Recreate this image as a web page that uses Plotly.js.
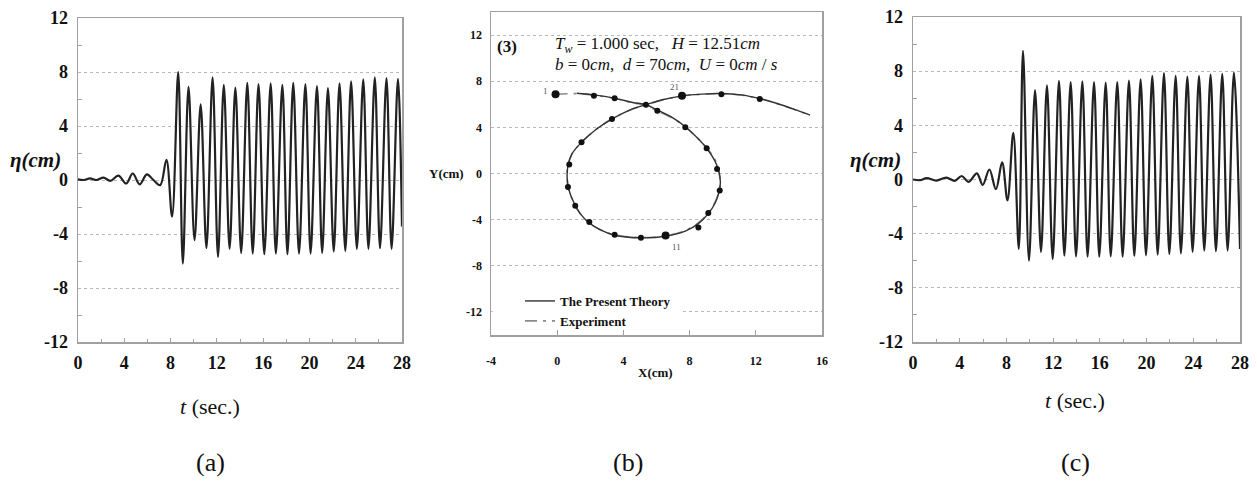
<!DOCTYPE html>
<html>
<head>
<meta charset="utf-8">
<script src="https://cdn.plot.ly/plotly-3.0.1.min.js"></script>
<style>
  html, body { margin: 0; padding: 0; background: #ffffff; }
  #chart { width: 1257px; height: 482px; }
</style>
</head>
<body>
<div id="chart"></div>
<script>
// ---------- (a) surface elevation record: turning points of the trace ----------
const leadTimeA   = [0, 0.5, 1.04, 1.6, 2.2, 2.8, 3.49, 4.17, 4.73, 5.33, 5.95, 6.5, 7.1, 7.64, 8.13];
const leadEtaA    = [0.05, 0.0, 0.12, 0.0, 0.17, -0.06, 0.32, -0.26, 0.48, -0.32, 0.42, 0.02, -0.38, 1.5, -2.7];
const crestTimeA  = [8.66, 9.55, 10.6, 11.63, 12.6, 13.6, 14.63, 15.6, 16.65, 17.66, 18.6, 19.65, 20.65, 21.6, 22.6, 23.6, 24.65, 25.65, 26.66, 27.65];
const crestEtaA   = [8.0, 6.9, 5.6, 7.6, 7.05, 6.85, 7.2, 7.1, 7.15, 7.05, 7.2, 7.1, 6.95, 6.8, 7.15, 7.3, 7.45, 7.6, 7.55, 7.5];
const troughTimeA = [9.06, 10.07, 11.1, 12.1, 13.1, 14.1, 15.1, 16.1, 17.1, 18.1, 19.1, 20.1, 21.1, 22.1, 23.1, 24.1, 25.1, 26.1, 27.1];
const troughEtaA  = [-6.2, -4.45, -5.05, -5.7, -5.1, -5.4, -5.45, -5.5, -5.45, -5.5, -5.45, -5.45, -5.4, -5.3, -5.25, -5.1, -5.1, -5.05, -5.1];
const tailTimeA   = [28];
const tailEtaA    = [-3.45];

// ---------- (c) surface elevation record: turning points of the trace ----------
const leadTimeC   = [0, 0.6, 1.17, 2.0, 2.85, 3.58, 4.17, 4.76, 5.47, 5.97, 6.54, 7.1, 7.63, 8.09, 8.59, 9.06];
const leadEtaC    = [0, -0.05, 0.1, -0.08, 0.14, -0.1, 0.26, -0.18, 0.45, -0.4, 0.74, -0.72, 1.27, -1.54, 3.45, -5.12];
const crestTimeC  = [9.42, 10.45, 11.47, 12.5, 13.5, 14.5, 15.5, 16.5, 17.49, 18.49, 19.49, 20.49, 21.49, 22.49, 23.49, 24.49, 25.48, 26.48, 27.48];
const crestEtaC   = [9.5, 6.6, 6.95, 7.28, 7.2, 7.25, 7.2, 7.15, 7.2, 7.3, 7.4, 7.65, 7.85, 7.65, 7.6, 7.65, 7.75, 7.8, 7.9];
const troughTimeC = [9.93, 10.96, 11.96, 12.96, 13.96, 14.95, 15.95, 16.93, 17.95, 18.95, 19.95, 20.95, 21.95, 22.94, 23.94, 24.94, 25.94, 26.94];
const troughEtaC  = [-6.0, -5.35, -5.88, -5.63, -5.68, -5.7, -5.7, -5.68, -5.7, -5.65, -5.6, -5.55, -5.5, -5.45, -5.35, -5.25, -5.3, -5.25];
const tailTimeC   = [28];
const tailEtaC    = [-5.14];

// ---------- (b) particle orbit ----------
const theoryX = [1.19, 2.22, 3.47, 4.56, 5.36, 6.05, 6.94, 7.74, 8.43, 9.03, 9.52, 9.78, 9.86, 9.78, 9.52, 9.13, 8.53, 7.74, 6.55, 5.06, 3.47, 2.58, 1.94, 1.39, 0.99, 0.69, 0.6, 0.65, 0.89, 1.47, 2.38, 3.31, 4.37, 5.36, 6.35, 7.54, 8.73, 9.92, 11.11, 12.24, 13.29, 14.29, 15.28];
const theoryY = [6.96, 6.82, 6.53, 6.16, 5.96, 5.5, 4.86, 4.06, 3.14, 2.19, 1.12, 0.12, -0.75, -1.61, -2.62, -3.48, -4.35, -5.0, -5.44, -5.58, -5.35, -4.86, -4.29, -3.48, -2.47, -1.32, -0.32, 0.69, 1.7, 2.7, 3.86, 4.72, 5.5, 5.96, 6.39, 6.73, 6.88, 6.94, 6.82, 6.5, 6.07, 5.58, 5.06];
const experimentX = [-0.1, 1.2, 2.22, 3.47, 4.6, 5.36, 6.05, 6.98, 7.78, 8.5, 9.1, 9.5, 9.76, 9.84, 9.76, 9.5, 9.1, 8.5, 7.7, 6.55, 5.06, 3.47, 2.55, 1.92, 1.37, 0.97, 0.68, 0.6, 0.66, 0.9, 1.47, 2.4, 3.31, 4.38, 5.36, 6.35, 7.54, 8.73, 9.92, 11.1, 12.24, 13.3, 14.3, 15.2];
const experimentY = [6.88, 6.92, 6.78, 6.5, 6.12, 5.9, 5.42, 4.78, 3.98, 3.05, 2.1, 1.3, 0.2, -0.7, -1.6, -2.6, -3.45, -4.3, -4.96, -5.4, -5.55, -5.32, -4.84, -4.26, -3.45, -2.45, -1.3, -0.3, 0.7, 1.72, 2.72, 3.88, 4.74, 5.48, 5.94, 6.37, 6.72, 6.86, 6.92, 6.8, 6.48, 6.05, 5.56, 5.1];
const stampX = [2.22, 3.47, 5.36, 6.05, 7.74, 9.03, 9.66, 9.82, 9.13, 8.53, 5.06, 3.47, 1.94, 1.09, 0.65, 0.73, 1.47, 3.31, 9.92, 12.24];
const stampY = [6.73, 6.53, 5.96, 5.44, 4.0, 2.19, 0.4, -1.47, -3.42, -4.69, -5.58, -5.3, -4.2, -2.79, -1.18, 0.78, 2.7, 4.72, 6.88, 6.45];
const markedX = [-0.1, 6.55, 7.54];
const markedY = [6.88, -5.38, 6.73];
const markedText = ['1', '11', '21'];

// ---------- tick labels ----------
const timeTicks = [0, 4, 8, 12, 16, 20, 24, 28];
const timeTickText = ['0', '4', '8', '12', '16', '20', '24', '28'];
const etaTicks = [-12, -8, -4, 0, 4, 8, 12];
const etaTickText = ['-12', '-8', '-4', '0', '4', '8', '12'];
const orbitXTicks = [-4, 0, 4, 8, 12, 16];
const orbitXTickText = ['-4', '0', '4', '8', '12', '16'];
const orbitYTicks = [-12, -8, -4, 0, 4, 8, 12];
const orbitYTickText = ['-12', '-8', '-4', '0', '4', '8', '12'];

// put the turning points of one record into time order
function mergeRecord(groups) {
  const pts = [];
  groups.forEach(([ts, es]) => ts.forEach((t, i) => pts.push([t, es[i]])));
  pts.sort((p, q) => p[0] - q[0]);
  return { t: pts.map(p => p[0]), eta: pts.map(p => p[1]) };
}
const recA = mergeRecord([[leadTimeA, leadEtaA], [crestTimeA, crestEtaA], [troughTimeA, troughEtaA], [tailTimeA, tailEtaA]]);
const recC = mergeRecord([[leadTimeC, leadEtaC], [crestTimeC, crestEtaC], [troughTimeC, troughEtaC], [tailTimeC, tailEtaC]]);

const W = 1257, H = 482;
const fx = px => px / W;
const fy = py => 1 - py / H;
const SERIF = 'Liberation Serif, Times New Roman, Times, serif';
const FRAME = '#a0a0a0';
const GRID = '#b8b8b8';

const waveLine = { color: '#222222', width: 2.2, shape: 'spline', smoothing: 1 };

const traces = [
  { type: 'scatter', mode: 'lines', x: recA.t, y: recA.eta, xaxis: 'x', yaxis: 'y',
    line: waveLine, showlegend: false, hoverinfo: 'skip' },
  { type: 'scatter', mode: 'lines', x: experimentX, y: experimentY, xaxis: 'x2', yaxis: 'y2',
    name: 'Experiment', line: { color: '#8a8a8a', width: 1.6, dash: '12px,6px,3px,6px', shape: 'spline', smoothing: 1 },
    legendrank: 2 },
  { type: 'scatter', mode: 'lines', x: theoryX, y: theoryY, xaxis: 'x2', yaxis: 'y2',
    name: 'The Present Theory', line: { color: '#333333', width: 1.4, shape: 'spline', smoothing: 1 },
    legendrank: 1 },
  { type: 'scatter', mode: 'markers', x: stampX, y: stampY, xaxis: 'x2', yaxis: 'y2',
    marker: { color: '#111', size: 6 }, showlegend: false, hoverinfo: 'skip' },
  { type: 'scatter', mode: 'markers', x: markedX, y: markedY, xaxis: 'x2', yaxis: 'y2',
    marker: { color: '#111', size: 8 }, showlegend: false, hoverinfo: 'skip' },
  { type: 'scatter', mode: 'lines', x: recC.t, y: recC.eta, xaxis: 'x3', yaxis: 'y3',
    line: waveLine, showlegend: false, hoverinfo: 'skip' }
];

function timeAxis(dom, anchor) {
  return {
    domain: dom, anchor: anchor, range: [0, 28], fixedrange: true,
    tickmode: 'array', tickvals: timeTicks, ticktext: timeTickText,
    ticks: 'inside', ticklen: 4, tickwidth: 1, tickcolor: FRAME,
    minor: { tickmode: 'linear', tick0: 2, dtick: 4, ticks: 'inside', ticklen: 3, tickcolor: FRAME, showgrid: false },
    showline: true, linecolor: FRAME, linewidth: 1.5, mirror: true,
    showgrid: false, zeroline: false,
    ticklabelstandoff: 4,
    tickfont: { family: SERIF, size: 18, color: '#111', weight: 700 }
  };
}
function etaAxis(dom, anchor) {
  return {
    domain: dom, anchor: anchor, range: [-12, 12], fixedrange: true,
    tickmode: 'array', tickvals: etaTicks, ticktext: etaTickText,
    ticks: '',
    minor: { tickmode: 'linear', tick0: 2, dtick: 4, ticks: 'inside', ticklen: 4, tickcolor: FRAME, showgrid: false },
    showline: true, linecolor: FRAME, linewidth: 1.5, mirror: true,
    showgrid: true, gridcolor: GRID, griddash: 'dot', gridwidth: 1, zeroline: false,
    ticklabelstandoff: 5,
    tickfont: { family: SERIF, size: 18, color: '#111', weight: 700 }
  };
}

const annText = (x, y, text, size, extra) => Object.assign({
  xref: 'paper', yref: 'paper', x: fx(x), y: fy(y), text: text, showarrow: false,
  xanchor: 'center', yanchor: 'middle', font: { family: SERIF, size: size, color: '#111' }
}, extra || {});

const annotations = [
  annText(35, 160, '<b><i>η(cm)</i></b>', 21),
  annText(875, 160, '<b><i>η(cm)</i></b>', 21),
  annText(210, 406, '<i>t</i> (sec.)', 22),
  annText(1075, 400, '<i>t</i> (sec.)', 22),
  annText(210, 462, '(a)', 26),
  annText(628, 462, '(b)', 26),
  annText(1075, 462, '(c)', 26),
  annText(655, 372, '<b>X(cm)</b>', 13),
  annText(446, 173, '<b>Y(cm)</b>', 13),
  annText(507, 47, '<b>(3)</b>', 17),
  annText(553, 45, '<i>T</i><sub><i>w</i></sub> = 1.000 sec,   <i>H</i> = 12.51<i>cm</i>', 17, { xanchor: 'left' }),
  annText(553, 65, '<i>b</i> = 0<i>cm</i>,  <i>d</i> = 70<i>cm</i>,  <i>U</i> = 0<i>cm</i> / <i>s</i>', 17, { xanchor: 'left' })
];
// small sequence numbers next to the marked orbit stamps
const labelShift = { '1': [-10, -3], '11': [11, 11], '21': [-7, -9] };
markedText.forEach((s, i) => {
  annotations.push({
    xref: 'x2', yref: 'y2', x: markedX[i], y: markedY[i], text: s, showarrow: false,
    xshift: labelShift[s][0], yshift: -labelShift[s][1],
    font: { family: SERIF, size: 9, color: '#555555' }
  });
});

const layout = {
  width: W, height: H,
  margin: { l: 0, r: 0, t: 0, b: 0 },
  paper_bgcolor: '#ffffff', plot_bgcolor: '#ffffff',
  font: { family: SERIF, color: '#111' },
  showlegend: true,
  legend: {
    x: fx(520), y: fy(286), xanchor: 'left', yanchor: 'top',
    bgcolor: 'rgba(255,255,255,0)', borderwidth: 0,
    font: { family: SERIF, size: 13, color: '#111', weight: 700 },
    tracegroupgap: 0, traceorder: 'normal'
  },
  xaxis: timeAxis([fx(78), fx(402)], 'y'),
  yaxis: etaAxis([fy(342), fy(18)], 'x'),
  xaxis2: {
    domain: [fx(491), fx(822)], anchor: 'y2', range: [-4, 16], fixedrange: true,
    tickmode: 'array', tickvals: orbitXTicks, ticktext: orbitXTickText,
    ticks: 'inside', ticklen: 5, tickcolor: FRAME,
    showline: true, linecolor: FRAME, linewidth: 1.5, mirror: true,
    showgrid: false, zeroline: false, ticklabelstandoff: 14,
    tickfont: { family: SERIF, size: 12, color: '#111', weight: 700 }
  },
  yaxis2: {
    domain: [fy(335), fy(12)], anchor: 'x2', range: [-14, 14], fixedrange: true,
    tickmode: 'array', tickvals: orbitYTicks, ticktext: orbitYTickText,
    ticks: '', showline: true, linecolor: FRAME, linewidth: 1.5, mirror: true,
    showgrid: true, gridcolor: GRID, griddash: 'dot', gridwidth: 1, zeroline: false,
    ticklabelstandoff: 5,
    tickfont: { family: SERIF, size: 12, color: '#111', weight: 700 }
  },
  xaxis3: timeAxis([fx(913), fx(1240)], 'y3'),
  yaxis3: etaAxis([fy(342), fy(17)], 'x3'),
  shapes: [
    // clear strip behind the legend entries
    { type: 'rect', xref: 'x2', yref: 'y2', x0: -3.9, x1: 7.6, y0: -12.8, y1: -11.2,
      fillcolor: '#ffffff', line: { width: 0 }, layer: 'above' }
  ],
  annotations: annotations
};

Plotly.newPlot('chart', traces, layout, { displayModeBar: false, staticPlot: true });
</script>
</body>
</html>
